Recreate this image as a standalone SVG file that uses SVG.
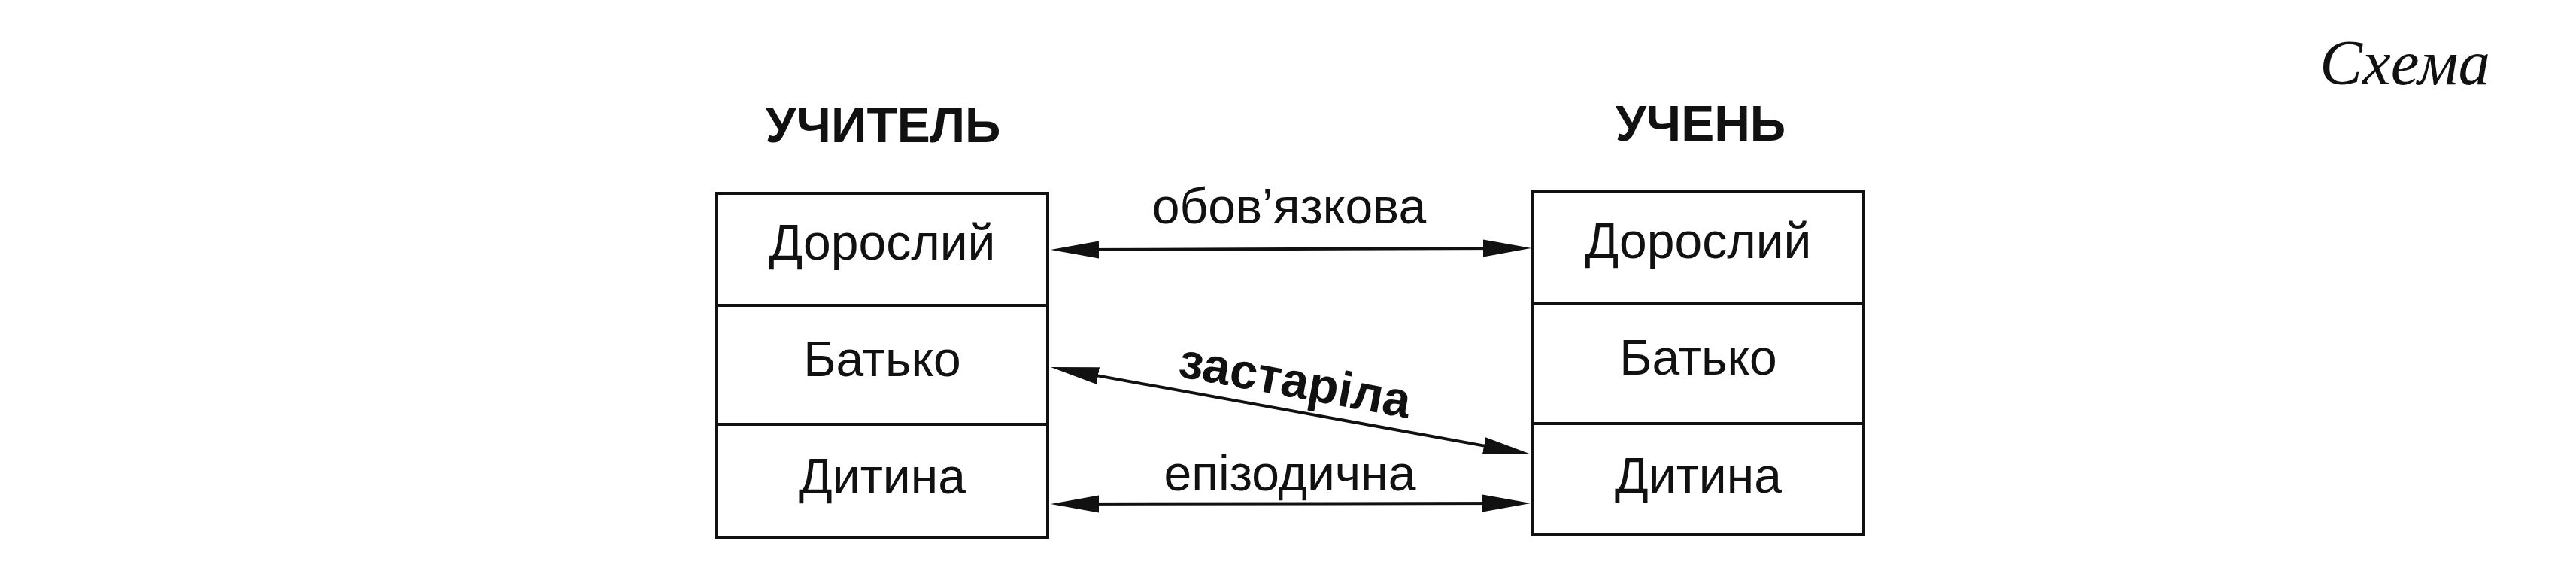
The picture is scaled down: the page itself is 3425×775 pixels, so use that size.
<svg xmlns="http://www.w3.org/2000/svg" width="3425" height="775" viewBox="0 0 3425 775">
<style>
.box{fill:#fff;stroke:#111;stroke-width:4}
.div{stroke:#111;stroke-width:4}
.t{font-family:"Liberation Sans",Arial,sans-serif;font-size:66px;fill:#111;text-anchor:middle}
.b{font-weight:bold}
.conn{stroke:#111;stroke-width:4;fill:none}
.title{font-family:"Liberation Serif","Times New Roman",serif;font-style:italic;font-size:85px;fill:#111;text-anchor:end}
</style>
<defs>
<marker id="ah" markerUnits="userSpaceOnUse" markerWidth="64" markerHeight="24" refX="34" refY="11.5" orient="auto-start-reverse" viewBox="0 0 64 23">
<path d="M0,0 L64,11.5 L0,23 z" fill="#111"/>
</marker>
</defs>
<rect width="3425" height="775" fill="#fff"/>
<text class="title" x="3311" y="112">Схема</text>
<g id="teacher">
<text class="t b" x="1174" y="189">УЧИТЕЛЬ</text>
<rect class="box" x="953" y="257" width="440" height="457"/>
<line class="div" x1="953" y1="406" x2="1393" y2="406"/>
<line class="div" x1="953" y1="564" x2="1393" y2="564"/>
<text class="t" x="1173" y="345">Дорослий</text>
<text class="t" x="1173" y="500">Батько</text>
<text class="t" x="1173" y="656">Дитина</text>
</g>
<g id="student">
<text class="t b" x="2261" y="187">УЧЕНЬ</text>
<rect class="box" x="2038" y="255" width="440" height="456"/>
<line class="div" x1="2038" y1="404" x2="2478" y2="404"/>
<line class="div" x1="2038" y1="563" x2="2478" y2="563"/>
<text class="t" x="2258" y="343">Дорослий</text>
<text class="t" x="2258" y="498">Батько</text>
<text class="t" x="2258" y="655">Дитина</text>
</g>
<g id="connectors">
<line class="conn" x1="1427" y1="332" x2="2006" y2="330" marker-start="url(#ah)" marker-end="url(#ah)"/>
<line class="conn" x1="1426.5" y1="493.4" x2="2006.5" y2="598.6" marker-start="url(#ah)" marker-end="url(#ah)"/>
<line class="conn" x1="1427" y1="670" x2="2005" y2="669" marker-start="url(#ah)" marker-end="url(#ah)"/>
<text class="t" x="1714" y="297">обов’язкова</text>
<text class="t b" x="0" y="0" transform="translate(1718,528) rotate(10.3)">застаріла</text>
<text class="t" x="1715" y="652">епізодична</text>
</g>
</svg>
